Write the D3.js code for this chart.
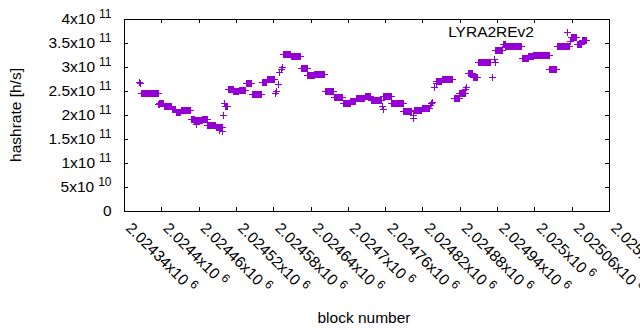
<!DOCTYPE html>
<html><head><meta charset="utf-8">
<script src="https://cdn.jsdelivr.net/npm/d3@7"></script>
<style>
body{margin:0;background:#fff}
svg{display:block}
text{font-family:"Liberation Sans",Arial,sans-serif;fill:#000}
</style>
</head><body>
<svg id="chart" width="640" height="330"></svg>
<script>
const seriesName = "LYRA2REv2";
const xTitle = "block number";
const yTitle = "hashrate [h/s]";

// runs of consecutive blocks with the same estimated hashrate (rate in 1e11 h/s)
const runStart = [2024364,2024365,2024368,2024395,2024397,2024404,2024417,2024423,2024431,2024447,
  2024453,2024455,2024466,2024474,2024488,2024492,2024498,2024500,2024501,2024502,
  2024507,2024516,2024525,2024536,2024546,2024562,2024570,2024583,2024584,2024587,
  2024590,2024592,2024594,2024596,2024608,2024624,2024635,2024646,2024663,2024677,
  2024692,2024704,2024713,2024727,2024737,2024755,2024756,2024757,2024770,2024789,
  2024804,2024805,2024806,2024819,2024832,2024834,2024836,2024838,2024841,2024842,
  2024851,2024870,2024879,2024889,2024890,2024894,2024901,2024909,2024932,2024935,
  2024936,2024937,2024949,2024953,2024980,2024990,2024998,2025024,2025036,2025053,
  2025057,2025059,2025068,2025076];
const runEnd = [2024364,2024365,2024394,2024396,2024403,2024416,2024422,2024430,2024446,2024452,
  2024465,2024455,2024473,2024487,2024498,2024492,2024498,2024500,2024501,2024505,
  2024515,2024524,2024535,2024545,2024561,2024569,2024582,2024583,2024584,2024587,
  2024590,2024592,2024594,2024607,2024623,2024634,2024645,2024662,2024676,2024691,
  2024703,2024712,2024726,2024736,2024754,2024755,2024756,2024769,2024788,2024802,
  2024804,2024805,2024818,2024830,2024832,2024834,2024836,2024838,2024841,2024850,
  2024868,2024878,2024888,2024889,2024890,2024900,2024908,2024929,2024932,2024935,
  2024936,2024948,2024952,2024979,2024989,2024997,2025023,2025035,2025056,2025053,
  2025057,2025067,2025075,2025083];
const runRate = [2.69,2.66,2.45,2.22,2.24,2.18,2.12,2.06,2.10,1.92,
  1.89,1.81,1.92,1.80,1.75,1.69,1.67,1.99,2.24,2.18,
  2.55,2.49,2.53,2.66,2.43,2.68,2.74,2.45,2.50,2.64,
  2.90,2.95,3.01,3.28,3.22,2.97,2.83,2.85,2.51,2.37,
  2.26,2.29,2.36,2.40,2.31,2.18,2.12,2.39,2.25,2.08,
  1.99,1.94,2.10,2.14,2.20,2.24,2.28,2.59,2.66,2.71,
  2.75,2.35,2.45,2.55,2.58,2.88,2.80,3.10,2.80,3.16,
  3.10,3.35,3.47,3.43,3.18,3.22,3.25,2.96,3.43,3.735,
  3.54,3.62,3.48,3.56];

const yTicks = [0,5e10,1e11,1.5e11,2e11,2.5e11,3e11,3.5e11,4e11];
const yTickMant = ["0","5x10","1x10","1.5x10","2x10","2.5x10","3x10","3.5x10","4x10"];
const yTickExp = ["","10","11","11","11","11","11","11","11"];
const xTicks = [2024340,2024400,2024460,2024520,2024580,2024640,2024700,2024760,2024820,2024880,2024940,2025000,2025060,2025120];
const xTickMant = ["2.02434x10","2.0244x10","2.02446x10","2.02452x10","2.02458x10","2.02464x10","2.0247x10","2.02476x10","2.02482x10","2.02488x10","2.02494x10","2.025x10","2.02506x10","2.02512x10"];
const xTickExp = "6";

const color = "#9400d3";
const L = 124, R = 609, T = 19, B = 211;
const svg = d3.select("#chart");
const x = d3.scaleLinear().domain([2024340, 2025120]).range([L, R]);
const y = d3.scaleLinear().domain([0, 4e11]).range([B, T]);

// expand runs into per-block points
const points = [];
runStart.forEach((s, i) => {
  for (let b = s; b <= runEnd[i]; b++) points.push({block: b, rate: runRate[i] * 1e11});
});

const fs = 15.5, sfs = 12;

const yAxisL = svg.append("g").attr("transform", `translate(${L},0)`)
  .call(d3.axisRight(y).tickValues(yTicks).tickSize(4).tickFormat(""));
const yAxisR = svg.append("g").attr("transform", `translate(${R},0)`)
  .call(d3.axisLeft(y).tickValues(yTicks).tickSize(4).tickFormat(""));
const xAxisB = svg.append("g").attr("transform", `translate(0,${B})`)
  .call(d3.axisTop(x).tickValues(xTicks).tickSize(4).tickFormat(""));
const xAxisT = svg.append("g").attr("transform", `translate(0,${T})`)
  .call(d3.axisBottom(x).tickValues(xTicks).tickSize(4).tickFormat(""));
[yAxisL, yAxisR, xAxisB, xAxisT].forEach(g => {
  g.select(".domain").remove();
  g.selectAll("line").attr("stroke", "#000").attr("shape-rendering", "crispEdges");
});

svg.append("rect").attr("x", L + 0.5).attr("y", T + 0.5).attr("width", R - L).attr("height", B - T)
  .attr("fill", "none").attr("stroke", "#000").attr("shape-rendering", "crispEdges");

yTicks.forEach((v, i) => {
  const t = svg.append("text").attr("x", 111.5).attr("y", y(v) + 5)
    .attr("text-anchor", "end").attr("font-size", fs);
  t.append("tspan").text(yTickMant[i]);
  if (yTickExp[i]) t.append("tspan").attr("dx", 4).attr("dy", -6).attr("font-size", sfs).text(yTickExp[i]);
});

xTicks.forEach((v, i) => {
  const t = svg.append("text")
    .attr("transform", `translate(${x(v) + 1},229) rotate(45)`)
    .attr("font-size", fs);
  t.append("tspan").text(xTickMant[i]);
  t.append("tspan").attr("dx", 4).attr("dy", -6).attr("font-size", sfs).text(xTickExp);
});

svg.append("text").attr("x", 364).attr("y", 323).attr("text-anchor", "middle")
  .attr("font-size", fs).text(xTitle);
svg.append("text").attr("transform", "translate(21,115) rotate(-90)").attr("text-anchor", "middle")
  .attr("font-size", fs).text(yTitle);

svg.append("text").attr("x", 534).attr("y", 37).attr("text-anchor", "end")
  .attr("font-size", fs).text(seriesName);

svg.append("g").selectAll("path").data(points).join("path")
  .attr("transform", d => `translate(${Math.round(x(d.block)) + 0.5},${Math.round(y(d.rate)) + 0.5})`)
  .attr("d", "M-3.5,0H3.5M0,-3.5V3.5")
  .attr("fill", "none").attr("stroke", color).attr("stroke-width", 1)
  .attr("shape-rendering", "crispEdges");
</script>
</body></html>
